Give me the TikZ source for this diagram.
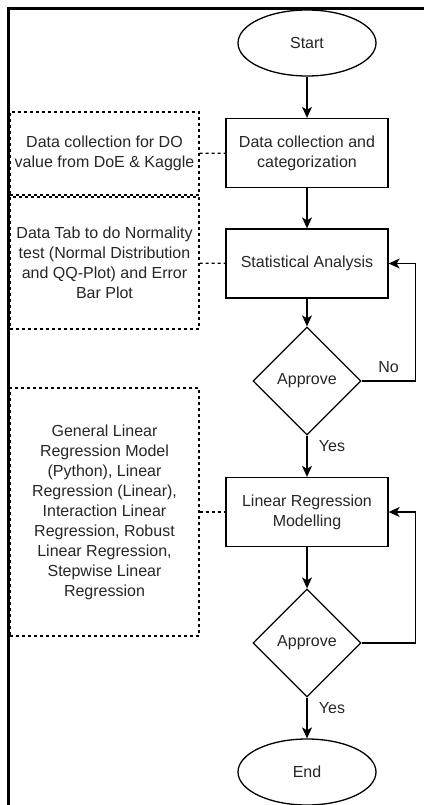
\documentclass[tikz,border=0pt]{standalone}
\usepackage{fontspec}
\setmainfont{Liberation Sans}
\usepackage{tikz}
\usetikzlibrary{shapes.geometric,arrows.meta}

\begin{document}
\begin{tikzpicture}[
  x=1pt,y=-1pt,
  every node/.style={font=\fontsize{16}{20}\selectfont,text=black!85},
  term/.style={ellipse,draw,line width=1.3pt,minimum width=138pt,
               minimum height=66pt,inner sep=0pt},
  proc/.style={rectangle,draw,line width=1.3pt,minimum width=162pt,
               minimum height=69pt,align=center,inner sep=0pt},
  dec/.style={diamond,draw,line width=1.3pt,minimum width=108pt,
              minimum height=108pt,inner sep=0pt},
  note/.style={rectangle,draw,line width=1.2pt,dash pattern=on 3pt off 3pt,
               minimum width=189pt,align=center,inner sep=0pt},
  flow/.style={-{Stealth[length=11pt,width=10pt,inset=3pt]},line width=1.3pt},
  link/.style={line width=1.2pt,dash pattern=on 3pt off 3pt}
]
  \useasboundingbox (0,0) rectangle (424,805);
  % main chain
  \node[term] (start) at (307,43) {Start};
  \node[proc] (collect) at (307,153) {Data collection and\\categorization};
  \node[proc] (stats) at (307,263.5) {Statistical Analysis};
  \node[dec] (appr1) at (307,381) {Approve};
  \node[proc] (model) at (307,512) {Linear Regression\\Modelling};
  \node[dec] (appr2) at (307,643) {Approve};
  \node[term] (end) at (307,772) {End};
  % side notes
  \node[note,minimum height=83pt] (n1) at (104.5,153.5) {
    Data collection for DO\\value from DoE \& Kaggle};
  \node[note,minimum height=132pt] (n2) at (104.5,263) {
    Data Tab to do Normality\\test (Normal Distribution\\
    and QQ-Plot) and Error\\Bar Plot};
  \node[note,minimum height=248pt] (n3) at (104.5,512) {
    General Linear\\Regression Model\\(Python), Linear\\
    Regression (Linear),\\Interaction Linear\\Regression, Robust\\
    Linear Regression,\\Stepwise Linear\\Regression};
  \draw[flow] (start)--(collect); \draw[flow] (collect)--(stats);
  \draw[flow] (stats)--(appr1);
  \draw[flow] (appr1)--node[pos=0.25,right,xshift=8pt]{Yes}(model);
  \draw[flow] (model)--(appr2);
  \draw[flow] (appr2)--node[pos=0.25,right,xshift=8pt]{Yes}(end);
  \draw[flow] (appr1.east)--node[midway,above=4pt]{No} ++(54,0) |- (stats.east);
  \draw[flow] (appr2.east)-- ++(54,0) |- (model.east);
  \draw[link] (n1)--(collect); \draw[link] (n2)--(stats);
  \draw[link] (n3)--(model);
  % frame
  \draw[line width=3pt] (8.5,805)--(8.5,8.5)--(424,8.5);
\end{tikzpicture}
\end{document}
